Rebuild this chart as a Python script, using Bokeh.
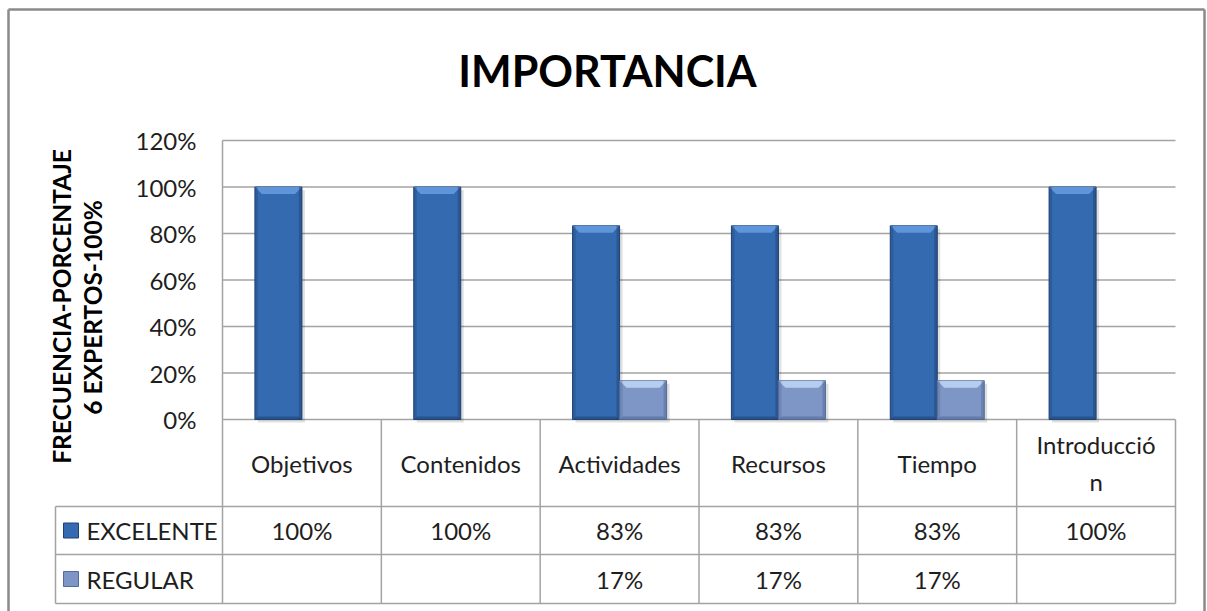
import numpy as np
from bokeh.plotting import figure
from bokeh.models import Range1d
from bokeh.embed import file_html
from bokeh.resources import INLINE
from bokeh.core.properties import value

# ---------------- data ----------------
categories = ["Objetivos", "Contenidos", "Actividades", "Recursos", "Tiempo", "Introducció\nn"]
series_names = ["EXCELENTE", "REGULAR"]
excelente = [100, 100, 83.3, 83.3, 83.3, 100]
regular = [0, 0, 16.7, 16.7, 16.7, 0]
y_ticks = [0, 20, 40, 60, 80, 100, 120]
chart_title = "IMPORTANCIA"
y_title_lines = ["FRECUENCIA-PORCENTAJE", "6 EXPERTOS-100%"]

# ---------------- layout (page pixels) ----------------
W, H = 1207, 611
PX_L, PX_R = 222, 1175      # plot area left/right
PY_TOP, PY_0 = 140, 419     # 120% line, 0% line
SX = (PX_R - PX_L) / len(categories)
SY = (PY_0 - PY_TOP) / max(y_ticks)

def X(px):
    return (px - PX_L) / SX

def Y(py):
    return (PY_0 - py) / SY

FONT = value("Lato")
GRID = "#a3a3a3"
TXT = "#1e1e1e"
EXC_BODY, EXC_TOP, EXC_DARK = "#346aaf", "#5f95da", "#1f4274"
REG_BODY, REG_TOP, REG_DARK = "#7d96c6", "#b7cdf0", "#546b98"

p = figure(width=W, height=H, output_backend="svg", toolbar_location=None,
           x_range=Range1d(X(0), X(W)), y_range=Range1d(Y(H), Y(0)),
           x_axis_type=None, y_axis_type=None, min_border=0,
           background_fill_color="white", border_fill_color="white")
p.outline_line_color = None
p.grid.visible = False

n = len(categories)
row1 = Y(506)   # bottom of category row
row2 = Y(554)   # bottom of EXCELENTE row
row3 = Y(603)   # bottom of REGULAR row
leg_l = X(55)

# outer chart border
p.segment(x0=[X(8), X(8), X(1204)], x1=[X(1204), X(8), X(1204)],
          y0=[Y(9), Y(9), Y(9)], y1=[Y(9), Y(H + 5), Y(H + 5)],
          line_color="#8a8a8a", line_width=2.5)

# gridlines
p.segment(x0=[0] * len(y_ticks), x1=[n] * len(y_ticks), y0=y_ticks, y1=y_ticks,
          line_color=GRID, line_width=1.5)
# table lines
hy = [row1, row2, row3]
p.segment(x0=[leg_l] * 3, x1=[n] * 3, y0=hy, y1=hy, line_color=GRID, line_width=1.5)
vx = list(range(n + 1))
p.segment(x0=vx, x1=vx, y0=[0] * (n + 1), y1=[row3] * (n + 1), line_color=GRID, line_width=1.5)
p.segment(x0=[0], x1=[0], y0=[max(y_ticks)], y1=[0], line_color=GRID, line_width=1.5)
p.segment(x0=[leg_l], x1=[leg_l], y0=[row1], y1=[row3], line_color=GRID, line_width=1.5)

# bars
bw = 47 / SX
bevel_x = 7 / SX
bevel_y = 7 / SY
bot_y = 3 / SY
centers = np.arange(n) + 0.5

def draw_series(vals, offset, body, top, dark):
    xs = [c + offset for c, v in zip(centers, vals) if v > 0]
    vs = [v for v in vals if v > 0]
    # shadow
    p.vbar(x=[x + 3 / SX for x in xs], top=[v - 3 / SY for v in vs], bottom=-3 / SY,
           width=bw, fill_color="black", fill_alpha=0.12, line_color=None)
    p.vbar(x=xs, top=vs, bottom=0, width=bw, fill_color=body, line_color=dark, line_width=1)
    # top bevel
    tx = [[x - bw / 2, x + bw / 2, x + bw / 2 - bevel_x, x - bw / 2 + bevel_x] for x in xs]
    ty = [[v, v, v - bevel_y, v - bevel_y] for v in vs]
    p.patches(tx, ty, fill_color=top, line_color=None)
    # bottom bevel
    bx = [[x - bw / 2, x + bw / 2, x + bw / 2 - bevel_x / 2, x - bw / 2 + bevel_x / 2] for x in xs]
    by = [[0, 0, bot_y, bot_y] for v in vs]
    p.patches(bx, by, fill_color=dark, fill_alpha=0.6, line_color=None)
    # side edges
    p.vbar(x=[x - bw / 2 + 1.5 / SX for x in xs], top=vs, bottom=0, width=3 / SX,
           fill_color=dark, fill_alpha=0.35, line_color=None)
    p.vbar(x=[x + bw / 2 - 1.5 / SX for x in xs], top=vs, bottom=0, width=3 / SX,
           fill_color=dark, fill_alpha=0.5, line_color=None)

draw_series(excelente, -bw / 2, EXC_BODY, EXC_TOP, EXC_DARK)
draw_series(regular, bw / 2, REG_BODY, REG_TOP, REG_DARK)

# title
p.text(x=[X(607)], y=[Y(70)], text=[chart_title], text_font=FONT, text_font_style="bold",
       text_font_size="43px", text_align="center", text_baseline="middle", text_color="black")

# y tick labels
p.text(x=[X(196)] * len(y_ticks), y=y_ticks, text=[f"{t}%" for t in y_ticks], text_font=FONT,
       text_font_size="24px", text_align="right", text_baseline="middle", text_color=TXT)

# y title (two rotated lines)
p.text(x=[X(61), X(92)], y=[Y(306), Y(307)], text=y_title_lines, angle=np.pi / 2,
       text_font=FONT, text_font_style="bold", text_font_size="24.5px",
       text_align="center", text_baseline="middle", text_color="black")

# category labels in table
p.text(x=list(centers), y=[(0 + row1) / 2] * n, text=categories, text_font=FONT,
       text_font_size="24px", text_align="center", text_baseline="middle",
       text_color=TXT, text_line_height=1.25)

# values rows
fmt = lambda v: f"{round(v)}%" if v > 0 else ""
p.text(x=list(centers), y=[(row1 + row2) / 2] * n, text=[fmt(v) for v in excelente],
       text_font=FONT, text_font_size="24px", text_align="center", text_baseline="middle",
       text_color=TXT)
p.text(x=list(centers), y=[(row2 + row3) / 2] * n, text=[fmt(v) for v in regular],
       text_font=FONT, text_font_size="24px", text_align="center", text_baseline="middle",
       text_color=TXT)

# legend keys + names
ky = [(row1 + row2) / 2, (row2 + row3) / 2]
p.scatter(x=[X(70.5)] * 2, y=ky, marker="square", size=15,
          fill_color=[EXC_BODY, REG_BODY], line_color=[EXC_DARK, REG_DARK])
p.text(x=[X(86)] * 2, y=ky, text=series_names, text_font=FONT, text_font_size="24px",
       text_align="left", text_baseline="middle", text_color=TXT)

open("out.html", "w").write(file_html(p, INLINE))
